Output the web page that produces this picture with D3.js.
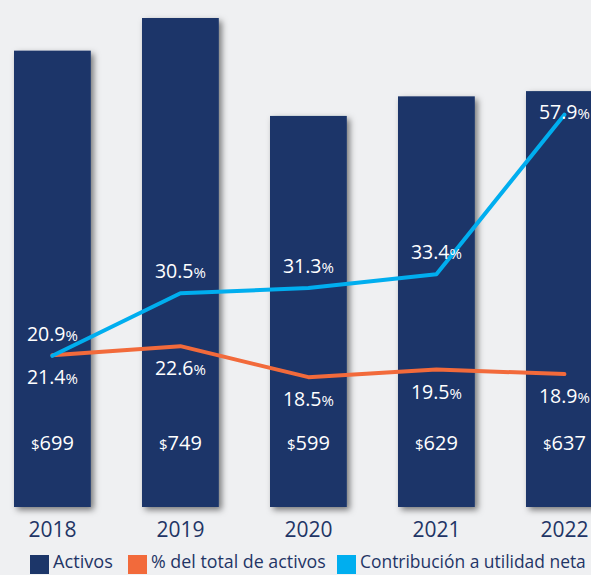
<!DOCTYPE html>
<html>
<head>
<meta charset="utf-8">
<script src="https://cdn.jsdelivr.net/npm/d3@7"></script>
<style>
  body { margin: 0; background: #eff0f2; }
  text { font-family: "Open Sans", "Noto Sans", sans-serif; }
</style>
</head>
<body>
<div id="chart"></div>
<script>
// data
var years = ["2018", "2019", "2020", "2021", "2022"];
var activos = [699, 749, 599, 629, 637];
var pctActivos = [21.4, 22.6, 18.5, 19.5, 18.9];
var contribucion = [20.9, 30.5, 31.3, 33.4, 57.9];
var legendLabels = ["Activos", "% del total de activos", "Contribución a utilidad neta"];

var width = 591, height = 575;
var navy = "#1c3669", orange = "#f26a3b", blue = "#00aeef", textNavy = "#1f3566";

var svg = d3.select("#chart").append("svg")
    .attr("width", width)
    .attr("height", height);

svg.append("rect")
    .attr("width", width).attr("height", height)
    .attr("fill", "#eff0f2");

var defs = svg.append("defs");
defs.append("filter")
    .attr("id", "shadow")
    .attr("x", "-20%").attr("y", "-20%").attr("width", "150%").attr("height", "150%")
  .append("feDropShadow")
    .attr("dx", 3).attr("dy", 3)
    .attr("stdDeviation", 3)
    .attr("flood-color", "#000")
    .attr("flood-opacity", 0.5);

// scales
var x = d3.scaleBand()
    .domain(years)
    .range([-11.6, 628.4])
    .paddingInner(0.4)
    .paddingOuter(0.2);

var yBar = d3.scaleLinear().domain([0, 749]).range([507, 18]);
var yContrib = d3.scaleLinear().domain([0, 60]).range([492, 101]);
var yPct = d3.scaleLinear().domain([0, 25]).range([517, 328]);

var cx = function(i) { return x(years[i]) + x.bandwidth() / 2; };

// bars
svg.append("g")
  .selectAll("rect")
  .data(activos)
  .enter().append("rect")
    .attr("x", function(d, i) { return x(years[i]); })
    .attr("y", function(d) { return yBar(d); })
    .attr("width", x.bandwidth())
    .attr("height", function(d) { return yBar(0) - yBar(d); })
    .attr("fill", navy)
    .attr("filter", "url(#shadow)");

// value labels inside bars
var valLab = svg.append("g")
  .selectAll("text")
  .data(activos)
  .enter().append("text")
    .attr("x", function(d, i) { return cx(i); })
    .attr("y", yBar(0) - 57)
    .attr("text-anchor", "middle")
    .attr("fill", "#fff");
valLab.append("tspan").attr("font-size", "15px").text("$");
valLab.append("tspan").attr("font-size", "20px").text(function(d) { return d; });

// lines
var lineContrib = d3.line()
    .x(function(d, i) { return cx(i); })
    .y(function(d) { return yContrib(d); });
var linePct = d3.line()
    .x(function(d, i) { return cx(i); })
    .y(function(d) { return yPct(d); });

svg.append("path")
    .datum(pctActivos)
    .attr("d", linePct)
    .attr("fill", "none")
    .attr("stroke", orange)
    .attr("stroke-width", 4)
    .attr("stroke-linejoin", "round")
    .attr("stroke-linecap", "round");

svg.append("path")
    .datum(contribucion)
    .attr("d", lineContrib)
    .attr("fill", "none")
    .attr("stroke", blue)
    .attr("stroke-width", 4)
    .attr("stroke-linejoin", "round")
    .attr("stroke-linecap", "round");

// percent labels
function pctLabel(sel) {
  sel.append("tspan").attr("font-size", "19.5px").text(function(d) { return d.toFixed(1); });
  sel.append("tspan").attr("font-size", "15px").text("%");
}

svg.append("g")
  .selectAll("text")
  .data(contribucion)
  .enter().append("text")
    .attr("x", function(d, i) { return cx(i); })
    .attr("y", function(d, i) {
      var c = Math.max(yContrib(d) - 22, yBar(activos[i]) + 21);
      return c + 7;
    })
    .attr("text-anchor", "middle")
    .attr("fill", "#fff")
    .call(pctLabel);

svg.append("g")
  .selectAll("text")
  .data(pctActivos)
  .enter().append("text")
    .attr("x", function(d, i) { return cx(i); })
    .attr("y", function(d) { return yPct(d) + 22 + 7; })
    .attr("text-anchor", "middle")
    .attr("fill", "#fff")
    .call(pctLabel);

// year axis
var xAxis = svg.append("g")
    .attr("transform", "translate(0," + yBar(0) + ")")
    .call(d3.axisBottom(x).tickSize(0).tickPadding(12));
xAxis.select(".domain").remove();
xAxis.selectAll("text")
    .attr("font-size", "21px")
    .attr("font-family", "Open Sans")
    .attr("fill", textNavy)
    .attr("dy", "0.71em")
    .attr("y", 15);

// legend (text squeezed horizontally to the widths the original uses)
var legendColors = [navy, orange, blue];
var legendX = [0, 98, 307];
var legendW = [60, 175, 226];
var legend = svg.append("g").attr("transform", "translate(30,553)");
legendLabels.forEach(function(lab, i) {
  legend.append("rect")
      .attr("x", legendX[i]).attr("y", 2)
      .attr("width", 19).attr("height", 19)
      .attr("fill", legendColors[i]);
  var t = legend.append("text")
      .attr("font-size", "19px")
      .attr("fill", textNavy)
      .text(lab);
  var sx = Math.min(1, legendW[i] / t.node().getComputedTextLength());
  t.attr("transform", "translate(" + (legendX[i] + 23) + ",15) scale(" + sx + ",1)");
});
</script>
</body>
</html>
